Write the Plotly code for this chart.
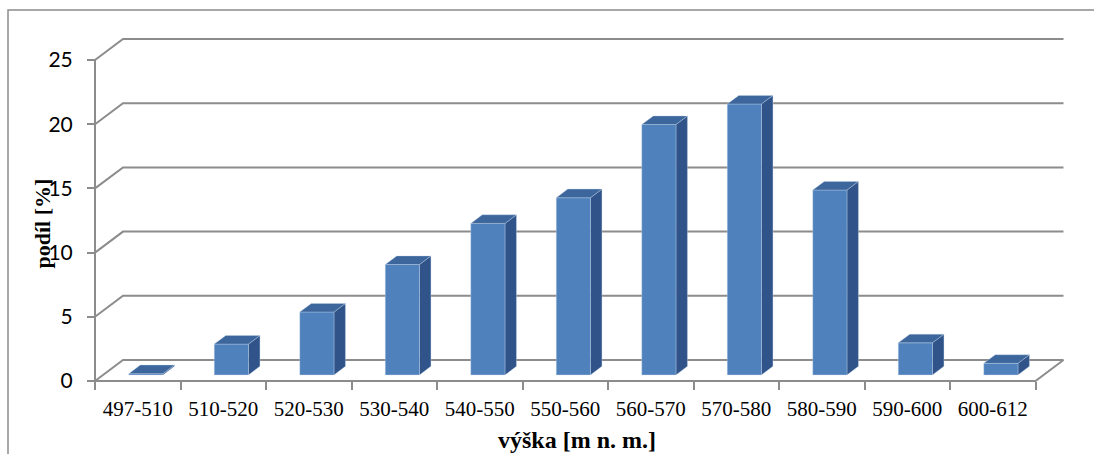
import plotly.graph_objects as go

# Altitude classes and their share of the area (%)
categories = ["497-510", "510-520", "520-530", "530-540", "540-550", "550-560",
              "560-570", "570-580", "580-590", "590-600", "600-612"]
shares = [0.1, 2.4, 4.9, 8.6, 11.8, 13.8, 19.5, 21.1, 14.4, 2.5, 0.9]
y_ticks = [0, 5, 10, 15, 20, 25]

# Oblique-projection parameters (data units: one category = 1, one percent = 1)
W, H = 1094, 454
ML, MR, MT, MB = 80, 0, 0, 60
PX_CAT = 85.5          # pixels per category
PX_VAL = 12.84         # pixels per percent
X0_PX = 95             # pixel of category boundary 0
Y0_PX = 381            # pixel of value 0
DEPTH_X = 28 / PX_CAT  # full depth shift, x
DEPTH_Y = 21 / PX_VAL  # full depth shift, y
BAR_W = 0.4
D0, D1 = 0.29, 0.70    # bar front/back depth fractions

plot_w = W - ML - MR
plot_h = H - MT - MB
x_min = -(X0_PX - ML) / PX_CAT
x_max = x_min + plot_w / PX_CAT
y_min = -(MT + plot_h - Y0_PX) / PX_VAL
y_max = y_min + plot_h / PX_VAL

GRID = "#8c8c8c"
n = len(categories)
fig = go.Figure()


def line(xs, ys, color=GRID, width=2):
    fig.add_trace(go.Scatter(x=xs, y=ys, mode="lines", line=dict(color=color, width=width),
                             hoverinfo="skip", showlegend=False))


# back wall gridlines and left wall diagonals
for v in y_ticks:
    line([0, DEPTH_X, n + DEPTH_X], [v, v + DEPTH_Y, v + DEPTH_Y])
# floor front and right edges, vertical axis line
line([0, n, n + DEPTH_X], [0, 0, DEPTH_Y])
line([0, 0], [0, y_ticks[-1]])

# bar faces
front_x, front_y, side_x, side_y, top_x, top_y = [], [], [], [], [], []
for i, v in enumerate(shares):
    xl = i + (1 - BAR_W) / 2
    xr = xl + BAR_W
    fx0, fy0 = D0 * DEPTH_X, D0 * DEPTH_Y
    bx0, by0 = D1 * DEPTH_X, D1 * DEPTH_Y
    front_x += [xl + fx0, xr + fx0, xr + fx0, xl + fx0, xl + fx0, None]
    front_y += [fy0, fy0, fy0 + v, fy0 + v, fy0, None]
    side_x += [xr + fx0, xr + bx0, xr + bx0, xr + fx0, xr + fx0, None]
    side_y += [fy0, by0, by0 + v, fy0 + v, fy0, None]
    top_x += [xl + fx0, xr + fx0, xr + bx0, xl + bx0, xl + fx0, None]
    top_y += [fy0 + v, fy0 + v, by0 + v, by0 + v, fy0 + v, None]

for xs, ys, col in [(side_x, side_y, "#30548a"), (front_x, front_y, "#4f81bd"),
                    (top_x, top_y, "#3d679c")]:
    fig.add_trace(go.Scatter(x=xs, y=ys, mode="lines", fill="toself", fillcolor=col,
                             line=dict(color="rgba(200,215,235,0.6)", width=0.6),
                             hoverinfo="skip", showlegend=False))

fig.update_layout(
    width=W, height=H,
    margin=dict(l=ML, r=MR, t=MT, b=MB),
    paper_bgcolor="white", plot_bgcolor="white",
    xaxis=dict(range=[x_min, x_max], showgrid=False, zeroline=False, showline=False,
               anchor="free", position=(MT + plot_h - Y0_PX) / plot_h,
               tickmode="array", tickvals=[i + 0.5 for i in range(n)], ticktext=categories,
               ticks="", ticklabelstandoff=13,
               tickfont=dict(family="Liberation Serif", size=21, color="black"),
               minor=dict(tickmode="array", tickvals=list(range(n + 1)), ticks="outside",
                          ticklen=8, tickwidth=2, tickcolor=GRID, showgrid=False)),
    yaxis=dict(range=[y_min, y_max], showgrid=False, zeroline=False, showline=False,
               anchor="free", position=(X0_PX - ML) / plot_w,
               tickmode="array", tickvals=y_ticks, ticks="outside", ticklen=8,
               tickwidth=2, tickcolor=GRID, ticklabelstandoff=10,
               tickfont=dict(family="Lato", size=21, color="black")),
    shapes=[dict(type="rect", xref="paper", yref="paper",
                 x0=(8 - ML) / plot_w, x1=(W + 10 - ML) / plot_w,
                 y0=-(H + 10 - plot_h) / plot_h, y1=(plot_h - 10) / plot_h,
                 line=dict(color="#8c8c8c", width=1.5), layer="below")],
    annotations=[
        dict(text="<b>podíl [%]</b>", xref="paper", yref="paper",
             x=(28 - ML) / plot_w, y=(plot_h - 224) / plot_h, textangle=-90,
             showarrow=False, font=dict(family="Liberation Serif", size=22, color="black")),
        dict(text="<b>výška [m n. m.]</b>", xref="paper", yref="paper",
             x=(577 - ML) / plot_w, y=(plot_h - 455) / plot_h,
             showarrow=False, font=dict(family="Liberation Serif", size=24, color="black")),
    ],
)

fig.write_html("out.html")
